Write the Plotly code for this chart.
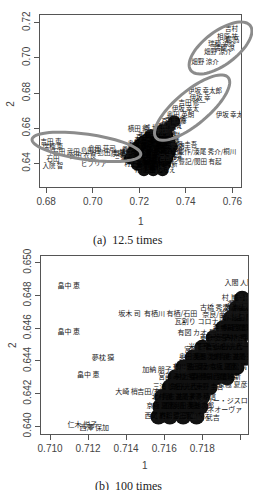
import math
import plotly.graph_objects as go

W, H = 253, 490

# ---------------- panel (a) 12.5 times ----------------
a_lab_x = [0.7596, 0.7579, 0.7554, 0.7537, 0.7482, 0.7600, 0.7565,
           0.7482, 0.7461, 0.7427, 0.7398, 0.7377, 0.7356, 0.7335, 0.7314, 0.7293, 0.7587, 0.7196, 0.7250,
           0.6821, 0.6829, 0.6880, 0.7040, 0.7082, 0.7124, 0.6829, 0.6829, 0.6956, 0.7006, 0.6990,
           0.7491, 0.7461, 0.7305, 0.7390, 0.7330]
a_lab_y = [0.7161, 0.7117, 0.7078, 0.7033, 0.6972, 0.7100, 0.7055,
           0.6811, 0.6772, 0.6739, 0.6706, 0.6672, 0.6644, 0.6617, 0.6589, 0.6572, 0.6672, 0.6594, 0.6600,
           0.6522, 0.6489, 0.6461, 0.6478, 0.6456, 0.6450, 0.6422, 0.6383, 0.6439, 0.6394, 0.6470,
           0.6461, 0.6406, 0.6367, 0.6500, 0.6430]
a_lab_t = ["吉村", "相原 祐", "瑞穂 涼介", "畑野 涼介", "畑野 涼介", "堀 高", "瑞穂 涼",
           "伊坂 幸太郎", "伊坂 幸", "吉田 修一", "伊坂 幸太", "奥田 英朗", "吉田 修", "有川 浩", "恩田 陸", "重松 清",
           "伊坂 幸太", "横田 絵", "城 世",
           "吉田 恵", "瑞穂 恵", "/石田 武田", "島田 荘司", "島田/有栖", "京極 夏", "石田", "入院 智", "石田 衣良",
           "ビブリア", "島田荘",
           "駿作/湊尾 秀介/桐川", "豊記/関田 有起", "ゆき", "東野 圭吾", "宮部 み"]

a_blob_x = [0.7250, 0.7290, 0.7320,
            0.7220, 0.7260, 0.7300, 0.7330,
            0.7190, 0.7230, 0.7270, 0.7310, 0.7340,
            0.7170, 0.7210, 0.7250, 0.7290, 0.7330,
            0.7160, 0.7200, 0.7240, 0.7280, 0.7320,
            0.7190, 0.7230, 0.7270, 0.7310,
            0.7220, 0.7260, 0.7300,
            0.7240, 0.7280, 0.7205, 0.7245, 0.7285, 0.7180, 0.7220, 0.7260, 0.7300,
            0.7175, 0.7215, 0.7255, 0.7295, 0.7210, 0.7250, 0.7290, 0.7240, 0.7280,
            0.7300, 0.7330, 0.7350]
a_blob_y = [0.6561, 0.6561, 0.6561,
            0.6528, 0.6528, 0.6528, 0.6528,
            0.6494, 0.6494, 0.6494, 0.6494, 0.6494,
            0.6461, 0.6461, 0.6461, 0.6461, 0.6461,
            0.6428, 0.6428, 0.6428, 0.6428, 0.6428,
            0.6394, 0.6394, 0.6394, 0.6394,
            0.6361, 0.6361, 0.6361,
            0.6545, 0.6545, 0.6511, 0.6511, 0.6511, 0.6478, 0.6478, 0.6478, 0.6478,
            0.6445, 0.6445, 0.6445, 0.6445, 0.6411, 0.6411, 0.6411, 0.6378, 0.6378,
            0.6590, 0.6610, 0.6640]

# ---------------- panel (b) 100 times ----------------
b_lab_x = [0.71098, 0.71098, 0.71278, 0.71201, 0.71418, 0.71634, 0.71866, 0.71918, 0.71789,
           0.71995, 0.71789, 0.71933, 0.71784, 0.71603, 0.71402, 0.71521, 0.71170, 0.71232,
           0.71634, 0.71814, 0.71892, 0.71918, 0.71980, 0.71990, 0.71960]
b_lab_y = [0.64854, 0.64573, 0.64418, 0.64310, 0.64687, 0.64687, 0.64722, 0.64681, 0.64633,
           0.64872, 0.64567, 0.64513, 0.64466, 0.64340, 0.64209, 0.64209, 0.64006, 0.63988,
           0.64048, 0.64048, 0.64155, 0.64096, 0.64780, 0.64740, 0.64250]
b_lab_t = ["畠中 恵", "畠中 恵", "夢枕 獏", "畠中 恵", "坂木 司", "有栖川 有栖/石田", "古橋 秀之",
           "奈良/西尾維新", "瓦割り コロナビ", "入間 人間", "有図 カオ 星田", "宮部 みゆき",
           "宮部 ヨコ", "加納 朋子 谷原", "大崎 梢", "吉田/有", "仁木 悦子", "西澤 保加",
           "パトラブラ", "黒崎 武吉", "ヘンリー・ジスロ", "ネオーヴァ", "村上 春樹", "森 博嗣", "京極 夏彦"]

b_blob_x = [0.7157, 0.7163, 0.7170, 0.7177,
            0.7158, 0.7165, 0.7172, 0.7179,
            0.7159, 0.7166, 0.7173, 0.7180,
            0.7163, 0.7170, 0.7177, 0.7184,
            0.7166, 0.7173, 0.7180, 0.7187, 0.7193,
            0.7170, 0.7177, 0.7184, 0.7191, 0.7198,
            0.7175, 0.7182, 0.7189, 0.7196, 0.7203,
            0.7180, 0.7187, 0.7194, 0.7201,
            0.7186, 0.7193, 0.7200,
            0.7191, 0.7197, 0.7203,
            0.7195, 0.7201,
            0.7198, 0.7203,
            0.7201]
b_blob_y = [0.6406, 0.6406, 0.6406, 0.6406,
            0.6412, 0.6412, 0.6412, 0.6412,
            0.6418, 0.6418, 0.6418, 0.6418,
            0.6424, 0.6424, 0.6424, 0.6424,
            0.6430, 0.6430, 0.6430, 0.6430, 0.6430,
            0.6436, 0.6436, 0.6436, 0.6436, 0.6436,
            0.6442, 0.6442, 0.6442, 0.6442, 0.6442,
            0.6448, 0.6448, 0.6448, 0.6448,
            0.6454, 0.6454, 0.6454,
            0.6460, 0.6460, 0.6460,
            0.6466, 0.6466,
            0.6472, 0.6472,
            0.6478]

names = ["東野 圭吾", "宮部 みゆき", "村上 春樹", "森 博嗣", "赤川 次郎", "西尾 維新", "有川 浩",
         "恩田 陸", "湊 かなえ", "京極 夏彦", "重松 清", "奥田 英朗", "浅田 次郎", "北村 薫",
         "貴志 祐介", "道尾 秀介", "米澤 穂信", "三浦 しをん", "角田 光代", "乙一"]

a_xticks = [0.68, 0.70, 0.72, 0.74, 0.76]
a_yticks = [0.64, 0.66, 0.68, 0.70, 0.72]
b_xticks = [0.710, 0.712, 0.714, 0.716, 0.718, 0.720]
b_yticks = [0.640, 0.642, 0.644, 0.646, 0.648, 0.650]

# geometry (styling)
TOP = dict(dx=[37 / W, 242 / W], dy=[1 - 183 / H, 1 - 7 / H], xr=[0.67747, 0.76379], yr=[0.62667, 0.72444])
BOT = dict(dx=[38 / W, 249 / W], dy=[1 - 436 / H, 1 - 254 / H], xr=[0.709536, 0.720412], yr=[0.639522, 0.650388])

JP = "Noto Sans CJK JP"
SANS = "Liberation Sans, Arial, sans-serif"
FRAME = "#555555"

fig = go.Figure()


def blob_text(n, off):
    return [names[(i + off) % len(names)] for i in range(n)]


fig.add_trace(go.Scatter(x=a_blob_x, y=a_blob_y, mode="markers+text", text=blob_text(len(a_blob_x), 0),
                         marker=dict(symbol="circle", size=12, color="#111", line=dict(width=0)),
                         textfont=dict(family=JP, size=6, color="#000"), xaxis="x", yaxis="y",
                         showlegend=False, hoverinfo="skip"))
fig.add_trace(go.Scatter(x=a_lab_x, y=a_lab_y, mode="text", text=a_lab_t,
                         textfont=dict(family=JP, size=6.5, color="#1a1a1a"), xaxis="x", yaxis="y",
                         showlegend=False, hoverinfo="skip"))
fig.add_trace(go.Scatter(x=b_blob_x, y=b_blob_y, mode="markers+text", text=blob_text(len(b_blob_x), 5),
                         marker=dict(symbol="circle", size=16, color="#111", line=dict(width=0)),
                         textfont=dict(family=JP, size=6.5, color="#000"), xaxis="x2", yaxis="y2",
                         showlegend=False, hoverinfo="skip"))
fig.add_trace(go.Scatter(x=b_lab_x, y=b_lab_y, mode="text", text=b_lab_t,
                         textfont=dict(family=JP, size=7, color="#1a1a1a"), xaxis="x2", yaxis="y2",
                         showlegend=False, hoverinfo="skip"))


def axis(dom, rng, ticks, fmt, anchor, angle=0):
    return dict(domain=dom, range=rng, tickvals=ticks, ticktext=[fmt.format(t) for t in ticks],
                ticks="outside", ticklen=5, tickcolor=FRAME, showline=True, mirror=True,
                linecolor=FRAME, linewidth=1, showgrid=False, zeroline=False, anchor=anchor,
                tickangle=angle, tickfont=dict(family=SANS, size=10, color="#444"))


fig.update_layout(
    width=W, height=H, margin=dict(l=0, r=0, t=0, b=0),
    paper_bgcolor="white", plot_bgcolor="white",
    xaxis=axis(TOP["dx"], TOP["xr"], a_xticks, "{:.2f}", "y"),
    yaxis=axis(TOP["dy"], TOP["yr"], a_yticks, "{:.2f}", "x", -90),
    xaxis2=axis(BOT["dx"], BOT["xr"], b_xticks, "{:.3f}", "y2"),
    yaxis2=axis(BOT["dy"], BOT["yr"], b_yticks, "{:.3f}", "x2", -90),
)


def to_px(P, x, y):
    px = P["dx"][0] * W + (x - P["xr"][0]) / (P["xr"][1] - P["xr"][0]) * (P["dx"][1] - P["dx"][0]) * W
    py = (1 - P["dy"][1]) * H + (P["yr"][1] - y) / (P["yr"][1] - P["yr"][0]) * (P["dy"][1] - P["dy"][0]) * H
    return px, py


def ellipse(P, xc, yc, a, b, ang):
    cx, cy = to_px(P, xc, yc)
    th = math.radians(ang)
    pts = []
    for k in range(73):
        t = 2 * math.pi * k / 72
        ex, ey = a * math.cos(t), b * math.sin(t)
        px = cx + ex * math.cos(th) - ey * math.sin(th)
        py = cy - (ex * math.sin(th) + ey * math.cos(th))
        pts.append((px / W, 1 - py / H))
    return "M " + " L ".join(f"{u:.5f},{v:.5f}" for u, v in pts) + " Z"


for (xc, yc, a, b, ang) in [(0.7549, 0.7056, 38, 17, 37), (0.7427, 0.6717, 48, 17, 40), (0.6973, 0.6494, 56, 13, -8)]:
    fig.add_shape(type="path", path=ellipse(TOP, xc, yc, a, b, ang), xref="paper", yref="paper",
                  line=dict(color="#8c8c8c", width=3))

ann = [
    dict(x=7 / W, y=1 - 98 / H, text="2", textangle=-90, font=dict(family=SANS, size=10, color="#444")),
    dict(x=140 / W, y=1 - 218 / H, text="1", font=dict(family=SANS, size=10, color="#444")),
    dict(x=127 / W, y=1 - 237 / H, text="(a)  12.5 times", font=dict(family="Liberation Serif", size=12, color="#222")),
    dict(x=8 / W, y=1 - 345 / H, text="2", textangle=-90, font=dict(family=SANS, size=10, color="#444")),
    dict(x=144 / W, y=1 - 468 / H, text="1", font=dict(family=SANS, size=10, color="#444")),
    dict(x=127 / W, y=1 - 489 / H, text="(b)  100 times", font=dict(family="Liberation Serif", size=12, color="#222")),
]
for a in ann:
    fig.add_annotation(xref="paper", yref="paper", showarrow=False, xanchor="center", yanchor="middle", **a)

fig.write_html("out.html")
